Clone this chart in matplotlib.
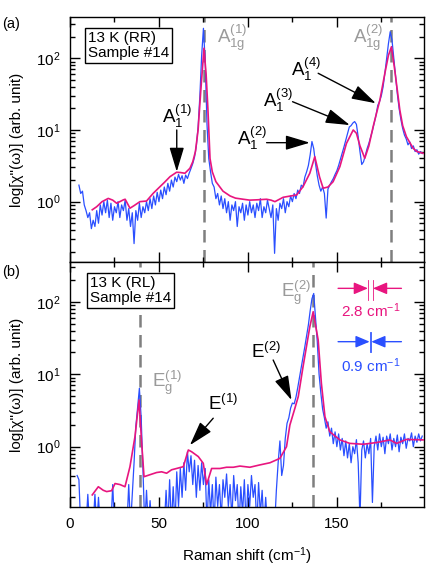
import numpy as np
import matplotlib
matplotlib.use('Agg')
import matplotlib.pyplot as plt
from matplotlib.ticker import MultipleLocator, LogLocator, NullFormatter

plt.rcParams['font.family'] = ['Liberation Sans', 'DejaVu Sans']
plt.rcParams['mathtext.fontset'] = 'custom'
plt.rcParams['mathtext.rm'] = 'Liberation Sans'
plt.rcParams['mathtext.it'] = 'Liberation Sans:italic'
plt.rcParams['mathtext.bf'] = 'Liberation Sans:bold'

BLUE = '#2a4fff'
PINK = '#e8157f'
GRAY_LINE = '#7f7f7f'
GRAY_TEXT = '#9a9a9a'

# (a) RR channel, measured spectrum (1 cm-1 steps from 5 cm-1)
rr_shift = np.arange(5, 199)
rr_data = [1.7, 1.3, 1.4, 0.9, 0.75, 0.6, 0.7, 0.42, 0.55, 0.45,
           0.75, 0.5, 0.9, 0.65, 1.0, 0.7, 1.05, 0.6, 0.95, 0.55,
           0.85, 0.7, 1.0, 0.6, 0.9, 0.75, 1.05, 0.55, 0.8, 0.45,
           0.7, 0.26, 0.75, 0.55, 0.95, 0.6, 0.85, 0.7, 1.0, 0.75,
           1.1, 0.8, 1.2, 0.9, 1.35, 1.0, 1.45, 1.1, 1.6, 1.25,
           1.8, 1.4, 2.0, 1.6, 2.2, 1.9, 2.4, 2.0, 2.3, 1.8,
           2.35, 2.1, 2.5, 2.9, 3.4, 4.2, 6.0, 11, 30, 110,
           262, 90, 12, 4.0, 2.6, 1.8, 1.6, 1.1, 1.3, 0.9,
           1.2, 0.8, 1.1, 0.7, 1.0, 0.55, 0.9, 0.75, 1.0, 0.45,
           0.85, 0.7, 0.95, 0.55, 0.9, 0.65, 1.0, 0.7, 0.9, 0.6,
           0.95, 0.75, 1.1, 0.6, 0.85, 0.7, 1.05, 0.8, 0.6, 0.9,
           0.19, 0.8, 0.55, 0.95, 0.8, 1.1, 0.7, 1.0, 0.85, 1.2,
           1.0, 1.3, 1.1, 1.45, 1.3, 1.7, 1.6, 2.2, 2.6, 3.2,
           4.5, 6.9, 5.5, 3.4, 2.3, 1.7, 1.4, 1.6, 1.3, 0.59,
           1.5, 1.7, 1.9, 2.1, 2.4, 2.7, 3.2, 3.9, 4.7, 5.8,
           7.2, 9.0, 11.0, 11.5, 12.5, 13.1, 12.0, 8.0, 5.0, 3.3,
           3.6, 4.4, 5.5, 6.5, 8.0, 9.8, 12.5, 16, 22, 25,
           30, 40, 62, 100, 160, 235, 180, 100, 55, 32,
           20, 14, 10.5, 8.5, 7.5, 6.2, 6.8, 5.5, 6.0, 5.0,
           5.3, 4.6, 5.0, 4.7]

# (a) fit
rr_fit_shift = [12.5, 15, 18, 21.5, 24, 26.2, 28, 30, 31, 33.7,
                36, 39.3, 43, 46.8, 50.6, 53, 56.2, 59.9, 62, 64.6,
                67.4, 69, 70.5, 72, 73.5, 75.3, 76.5, 77.5, 78.7, 80,
                82, 86, 90, 93, 97.4, 101, 105, 110.5, 113, 115.2,
                119.8, 124, 127.4, 131, 134.8, 137.6, 140.3, 142.3, 145, 147.9,
                151.7, 155.4, 159.2, 161, 163, 165.7, 168, 170.4, 172, 174.2,
                177, 179, 180.7, 182.5, 185.4, 187, 189.1, 192.9, 195, 198.5]
rr_fit = [0.77, 0.85, 1.0, 1.11, 1.05, 0.95, 1.0, 1.06, 1.08, 0.81,
          0.88, 1.0, 1.02, 1.31, 1.62, 1.85, 2.23, 2.57, 2.55, 2.49,
          2.92, 3.6, 5.0, 10, 35, 138, 60, 20, 4.0, 2.6,
          1.9, 1.4, 1.2, 1.12, 1.08, 1.05, 1.06, 1.08, 1.05, 1.0,
          1.15, 1.2, 1.24, 1.62, 2.49, 4.24, 2.2, 1.54, 1.6, 1.90,
          3.08, 6.5, 10.0, 9.0, 6.0, 4.03, 6.0, 11.1, 16, 26.2,
          61.9, 110, 145, 70, 19.0, 11.5, 8.07, 5.55, 5.0, 4.73]

# (b) RL channel, measured spectrum (1 cm-1 steps from 4 cm-1)
rl_shift = np.arange(4, 199)
rl_data = [0.40, 0.35, 0.08, 0.08, 0.08, 0.08, 0.22, 0.08, 0.08, 0.08,
           0.22, 0.08, 0.2, 0.08, 0.08, 0.08, 0.08, 0.08, 0.08, 0.08,
           0.3, 0.08, 0.08, 0.08, 0.08, 0.08, 0.08, 0.08, 0.08, 0.3,
           0.08, 0.22, 0.6, 1.9, 3.5, 6.4, 2.5, 0.48, 0.08, 0.25,
           0.08, 0.18, 0.08, 0.08, 0.08, 0.08, 0.08, 0.08, 0.08, 0.08,
           0.25, 0.08, 0.35, 0.08, 0.28, 0.08, 0.45, 0.15, 0.5, 0.2,
           0.6, 0.25, 0.85, 0.45, 0.75, 0.3, 0.65, 0.2, 0.55, 0.25,
           0.6, 0.3, 0.5, 0.08, 0.35, 0.12, 0.3, 0.08, 0.38, 0.15,
           0.3, 0.1, 0.35, 0.2, 0.42, 0.15, 0.3, 0.1, 0.4, 0.18,
           0.3, 0.08, 0.28, 0.12, 0.35, 0.08, 0.3, 0.15, 0.4, 0.2,
           0.3, 0.08, 0.32, 0.12, 0.25, 0.08, 0.2, 0.08, 0.08, 0.08,
           0.08, 0.08, 0.25, 0.6, 1.2, 0.4, 0.55, 1.3, 2.1, 2.5,
           3.4, 4.0, 3.9, 4.8, 6.5, 9.0, 12.5, 17, 24, 34,
           48, 75, 110, 130, 60, 28, 10, 5.5, 3.3, 2.5,
           1.8, 2.2, 1.4, 1.8, 1.1, 1.6, 1.0, 1.5, 0.9, 1.3,
           0.75, 1.2, 0.7, 1.1, 0.6, 1.0, 0.8, 1.25, 0.6, 0.1,
           0.9, 1.2, 0.7, 1.1, 0.8, 1.3, 0.17, 1.0, 1.4, 0.9,
           1.5, 1.0, 1.35, 0.8, 1.4, 1.1, 1.5, 0.9, 1.3, 1.0,
           1.45, 0.85, 1.35, 1.1, 1.5, 0.95, 1.3, 1.2, 1.55, 1.0,
           1.4, 1.15, 1.5, 1.2, 1.4]

# (b) fit
rl_fit_shift = [12.5, 15.9, 18.7, 20.6, 23.4, 25.3, 28.1, 30.9, 33.7, 36.5,
                38.8, 40.3, 41.6, 44.9, 48.7, 51.5, 54.3, 57.1, 59.9, 63.7,
                66.5, 68.4, 72.1, 74.9, 76.8, 79.6, 84.3, 88, 91.8, 95.5,
                101.1, 106.7, 112.4, 118, 121.7, 123.6, 126.4, 128.3, 131, 134.8,
                136.7, 139.5, 141.3, 143.3, 146, 151.7, 157.3, 164.8, 172.3, 179.8,
                183.6, 189.1, 198.6]
rl_fit = [0.216, 0.28, 0.25, 0.24, 0.247, 0.31, 0.30, 0.28, 0.53, 1.37,
          4.4, 1.1, 0.385, 0.41, 0.44, 0.45, 0.43, 0.48, 0.50, 0.53,
          0.90, 0.85, 0.73, 0.59, 0.30, 0.50, 0.50, 0.52, 0.52, 0.54,
          0.52, 0.56, 0.60, 0.69, 1.0, 1.99, 3.38, 4.9, 12.7, 45,
          72.8, 29.6, 7.5, 2.6, 1.61, 1.24, 1.11, 1.08, 1.14, 1.24,
          1.11, 1.26, 1.24]

# phonon positions (dashed lines)
a1g_pos = [75.3, 180.5]
eg_pos = [39.5, 136.7]

# linewidths for the markers in (b)
width_fit = 2.8
width_data = 0.9

fig = plt.figure(figsize=(4.36, 5.72), dpi=100)
ax_a = fig.add_axes([0.1606, 0.5420, 0.8119, 0.4283])
ax_b = fig.add_axes([0.1606, 0.1136, 0.8119, 0.4283])

ylabel = 'log[\u03c7"(\u03c9)] (arb. unit)'
for ax in (ax_a, ax_b):
    ax.set_yscale('log')
    ax.set_xlim(0, 199)
    ax.xaxis.set_major_locator(MultipleLocator(50))
    ax.xaxis.set_minor_locator(MultipleLocator(25))
    ax.yaxis.set_major_locator(LogLocator(base=10, numticks=10))
    ax.yaxis.set_minor_locator(LogLocator(base=10, subs=np.arange(2, 10), numticks=10))
    ax.yaxis.set_minor_formatter(NullFormatter())
    ax.tick_params(which='both', direction='in', top=True, right=True, width=1)
    ax.tick_params(which='major', length=7, pad=7, labelsize=11)
    ax.tick_params(which='minor', length=3.6)
    for s in ax.spines.values():
        s.set_linewidth(1)
    ax.set_ylabel(ylabel, fontsize=11)
    ax.yaxis.set_label_coords(-0.13, 0.5)

ax_a.set_ylim(0.144, 377)
ax_b.set_ylim(0.147, 353)
ax_a.tick_params(labelbottom=False)

# panel (a)
for p in a1g_pos:
    ax_a.axvline(p, color=GRAY_LINE, lw=1.8, ls=(0, (5, 3)), zorder=1)
ax_a.plot(rr_shift, rr_data, color=BLUE, lw=0.9, zorder=2)
ax_a.plot(rr_fit_shift, rr_fit, color=PINK, lw=1.2, zorder=3)

# panel (b)
for p in eg_pos:
    ax_b.axvline(p, color=GRAY_LINE, lw=1.8, ls=(0, (5, 3)), zorder=1)
ax_b.plot(rl_shift, rl_data, color=BLUE, lw=0.9, zorder=2)
ax_b.plot(rl_fit_shift, rl_fit, color=PINK, lw=1.2, zorder=3)

ax_b.set_xlabel('Raman shift (cm$^{-1}$)', fontsize=11)
ax_b.xaxis.set_label_coords(0.5, -0.155)

box = dict(boxstyle='square,pad=0.2', fc='white', ec='black', lw=1)
ax_a.text(0.051, 0.943, '13 K (RR)\nSample #14', transform=ax_a.transAxes,
          ha='left', va='top', fontsize=11, linespacing=1.1, bbox=box, zorder=5)
ax_b.text(0.056, 0.943, '13 K (RL)\nSample #14', transform=ax_b.transAxes,
          ha='left', va='top', fontsize=11, linespacing=1.1, bbox=box, zorder=5)

fig.text(0.026, 0.958, '(a)', fontsize=10.5, ha='center', va='center')
fig.text(0.026, 0.525, '(b)', fontsize=10.5, ha='center', va='center')

big = dict(arrowstyle='-|>,head_length=1.0,head_width=0.3', mutation_scale=15,
           color='black', lw=1, shrinkA=0, shrinkB=0)
small_pink = dict(arrowstyle='-|>,head_length=0.85,head_width=0.36', mutation_scale=10,
                  color=PINK, lw=1, shrinkA=0, shrinkB=0)
small_blue = dict(small_pink, color=BLUE)

lab = dict(fontsize=13.5, ha='left', va='baseline')

# labels in (a)
ax_a.text(82.4, 162, r'$\mathregular{A_{1g}^{(1)}}$', color=GRAY_TEXT, **lab)
ax_a.text(159.2, 162, r'$\mathregular{A_{1g}^{(2)}}$', color=GRAY_TEXT, **lab)
ax_a.text(51.7, 12.5, r'$\mathregular{A_1^{(1)}}$', **lab)
ax_a.annotate('', xy=(60, 2.62), xytext=(60, 10), arrowprops=big)
ax_a.text(94, 6.18, r'$\mathregular{A_1^{(2)}}$', **lab)
ax_a.annotate('', xy=(134.8, 6.65), xytext=(110.5, 6.65), arrowprops=big)
ax_a.text(108.6, 21.1, r'$\mathregular{A_1^{(3)}}$', **lab)
ax_a.annotate('', xy=(157.3, 11.7), xytext=(125.1, 24.8), arrowprops=big)
ax_a.text(124, 56.6, r'$\mathregular{A_1^{(4)}}$', **lab)
ax_a.annotate('', xy=(171.9, 23.6), xytext=(139.5, 61.8), arrowprops=big)

# labels in (b)
ax_b.text(45.9, 6.7, r'$\mathregular{E_g^{(1)}}$', color=GRAY_TEXT, **lab)
ax_b.text(118.5, 117, r'$\mathregular{E_g^{(2)}}$', color=GRAY_TEXT, **lab)
ax_b.text(102, 16.6, r'$\mathregular{E^{(2)}}$', **lab)
ax_b.annotate('', xy=(124.5, 4.4), xytext=(114.2, 15.7), arrowprops=big)
ax_b.text(77.7, 3.2, r'$\mathregular{E^{(1)}}$', **lab)
ax_b.annotate('', xy=(67.4, 1.05), xytext=(80.5, 2.47), arrowprops=big)

# linewidth markers
mid = 168.9
for w, yl, ylo, yhi, yt, c, props, txt in [
        (width_fit, 153, 105, 199, 74.5, PINK, small_pink, '2.8 cm$^{-1}$'),
        (width_data, 28.1, 20.4, 38.6, 13.0, BLUE, small_blue, '0.9 cm$^{-1}$')]:
    xl, xr = mid - w / 2, mid + w / 2
    ax_b.plot([xl, xl], [ylo, yhi], color=c, lw=0.6)
    ax_b.plot([xr, xr], [ylo, yhi], color=c, lw=0.6)
    ax_b.annotate('', xy=(xl, yl), xytext=(150.7, yl), arrowprops=props)
    ax_b.annotate('', xy=(xr, yl), xytext=(186.3, yl), arrowprops=props)
    ax_b.text(mid, yt, txt, color=c, fontsize=11, ha='center', va='center')

fig.savefig('out.png', dpi=100)
